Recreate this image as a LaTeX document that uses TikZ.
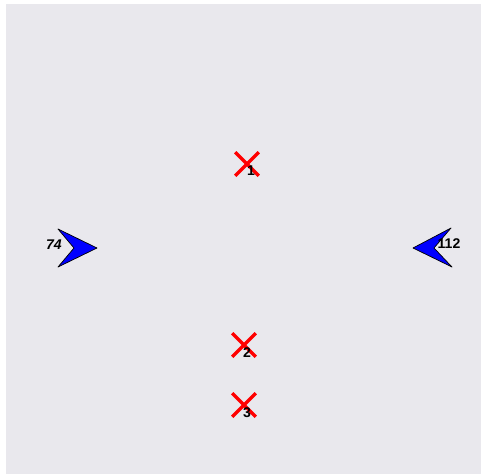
\documentclass[tikz,border=0pt]{standalone}
\usepackage{fontspec}
\setmainfont{Liberation Sans}
\usetikzlibrary{shapes.misc}
\definecolor{bgcol}{RGB}{233,232,237}
\begin{document}
\begin{tikzpicture}[x=0.02cm, y=-0.02cm, font=\bfseries\fontsize{8}{9}\selectfont, line join=round,
		spot/.style={cross out, draw=red, line width=2pt, minimum size=0.4cm, inner sep=0pt},
		plane/.style={fill=blue, draw=black, line width=0.4pt},
		tag/.style={inner sep=0pt}]
				
				\def \W{481}
				\def \H{474}
				
				\useasboundingbox (0,0) rectangle (\W,\H);
				\fill[bgcol] (6,4) rectangle (\W,\H);
				
				\filldraw[plane] (97,248) -- (58,229) -- (74,248) -- (58,267) -- cycle;
				\filldraw[plane] (413,248) -- (451,228) -- (434,248) -- (452,267) -- cycle;
				\node[tag] (l74) at (54,245) {\itshape 74};
				\node[tag] (l112) at (449,244) {112};
				
				\node[spot] (p1) at (247,164) {};
				\node[spot] (p2) at (244,345) {};
				\node[spot] (p3) at (244,405) {};
				\node[tag] (l1) at (251,171) {1};
				\node[tag] (l2) at (247,353) {2};
				\node[tag] (l3) at (247,413) {3};
		\end{tikzpicture}
\end{document}
